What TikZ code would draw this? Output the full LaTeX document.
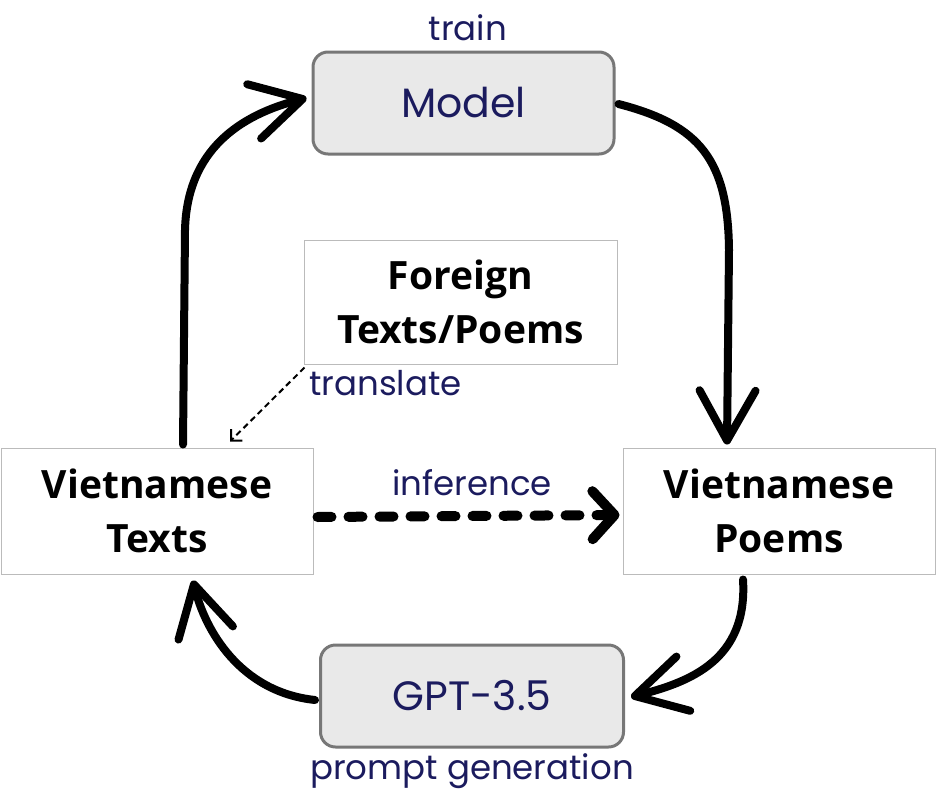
\documentclass[tikz,border=0pt]{standalone}
\usepackage{fontspec}
\setmainfont{Open Sans}
\newfontfamily\labelfont{Poppins}
\newfontfamily\boldfont{Open Sans}[UprightFont=* Bold]
\usetikzlibrary{arrows.meta,calc}
\definecolor{navy}{HTML}{1B1B5E}
\definecolor{boxgrey}{HTML}{E9E9E9}
\definecolor{boxborder}{HTML}{777777}
\definecolor{thinborder}{HTML}{BBBBBB}
\begin{document}
\begin{tikzpicture}[x=1pt,y=-1pt,
  greybox/.style={draw=boxborder,fill=boxgrey,line width=3pt,rounded corners=15pt,
    inner sep=0pt,font=\labelfont\fontsize{41}{48}\selectfont,text=navy},
  whitebox/.style={draw=thinborder,line width=1pt,fill=white,inner sep=0pt,align=center,
    font=\boldfont\fontsize{39}{54}\selectfont,text=black},
  lbl/.style={font=\labelfont\fontsize{34}{40}\selectfont,text=navy,inner sep=0pt},
  bigarrow/.style={line width=8pt,line cap=round,line join=round,
    -{Straight Barb[length=50pt,width=56pt,line cap=round,line join=round]}},
  dasharrow/.style={line width=10pt,line cap=round,dash pattern=on 14pt off 17pt,
    -{Straight Barb[length=22pt,width=48pt,line cap=round,line join=round]}},
  thinarrow/.style={line width=2pt,dash pattern=on 6pt off 4pt,
    -{Straight Barb[length=8pt,width=16pt]}}
]
\useasboundingbox (0,0) rectangle (937,803);

\node[greybox,minimum width=301pt,minimum height=102pt] (model) at (463.5,103) {Model};
\node[greybox,minimum width=303pt,minimum height=102pt] (gpt) at (472,696) {GPT-3.5};
\node[whitebox,minimum width=313pt,minimum height=124pt] (foreign) at (460.5,302) {Foreign\\Texts/Poems};
\node[whitebox,minimum width=312pt,minimum height=126pt] (vt) at (157,511) {Vietnamese\\Texts};
\node[whitebox,minimum width=312pt,minimum height=126pt] (vp) at (779,511) {Vietnamese\\Poems};

\node[lbl] (train) at (468,28) {train};
\node[lbl,anchor=west] (translate) at (309,383) {translate};
\node[lbl] (inference) at (472,483) {inference};
\node[lbl] (prompt) at (472,771) {prompt generation};

% Vietnamese Texts -> Model
\draw[bigarrow] ([xshift=26pt,yshift=3pt]vt.north) -- (185,230)
  .. controls (187,150) and (240,115) .. ([xshift=-5pt,yshift=5pt]model.west);
% Model -> Vietnamese Poems
\draw[bigarrow] ([xshift=3pt,yshift=-1pt]model.east) .. controls (700,125) and (728,160) .. (729,250)
  -- ([xshift=-52pt,yshift=3pt]vp.north);
% Vietnamese Poems -> GPT
\draw[bigarrow] ([xshift=-36pt,yshift=-5pt]vp.south) .. controls (748,660) and (690,682)
  .. ([xshift=6pt,yshift=-1pt]gpt.east);
% GPT -> Vietnamese Texts
\draw[bigarrow] ([xshift=-4pt,yshift=-4pt]gpt.west) .. controls (240,692) and (205,630)
  .. ([xshift=36pt,yshift=-6pt]vt.south);
% inference
\draw[dasharrow] ([xshift=4pt,yshift=-6pt]vt.east) -- ([xshift=-3pt,yshift=-4pt]vp.west);
% translate
\draw[thinarrow] ([xshift=1pt,yshift=-3pt]foreign.south west) -- ([xshift=73pt,yshift=6pt]vt.north);
\end{tikzpicture}
\end{document}
